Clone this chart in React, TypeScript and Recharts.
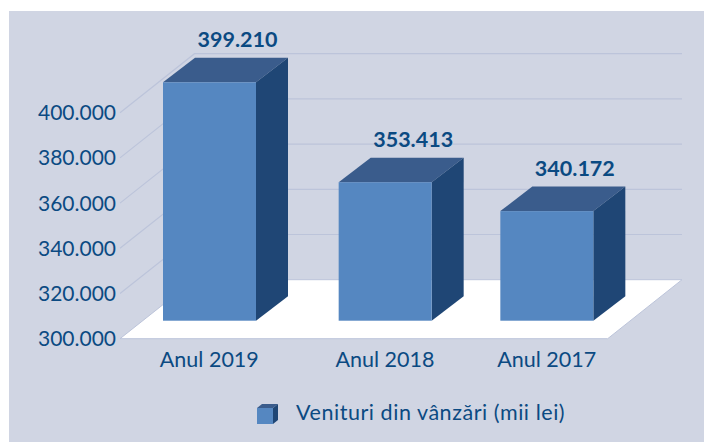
import { BarChart, Bar, XAxis, YAxis, CartesianGrid, LabelList } from 'recharts';

const CATEGORIES = ['Anul 2019', 'Anul 2018', 'Anul 2017'];
const SALES = [399210, 353413, 340172];
const Y_TICKS = [300000, 320000, 340000, 360000, 380000, 400000];
const SERIES_NAME = 'Venituri din vânzări (mii lei)';

const data = CATEGORIES.map((name, i) => ({ name, sales: SALES[i] }));

const PANEL = '#d0d5e3';
const TEXT = '#0b4a82';
const GRID = '#bcc4da';
const FRONT = '#5587c1';
const SIDE = '#1f4675';
const TOP = '#3a5c8c';
const FONT = 'Lato, sans-serif';

// floor depth and bar depth of the fake 3D projection
const FLOOR_DX = 74.5;
const FLOOR_DY = 59;
const BAR_DX = 32;
const BAR_DY = 24.5;
const BAR_LIFT = 18; // bars stand this far behind the floor's front edge
// the original spaces the categories unevenly
const CATEGORY_NUDGE = [0, 7, 0];

function formatThousands(value: number): string {
  return String(value).replace(/\B(?=(\d{3})+$)/g, '.');
}

// eslint-disable-next-line @typescript-eslint/no-explicit-any
function WallLine(props: any) {
  const { x1, x2, y1, y, height } = props;
  const left = x1 - 5;
  const isFloor = Math.abs(y1 - (y + height)) < 0.5;
  const backY = y1 - FLOOR_DY;
  return (
    <g>
      {isFloor && (
        <polygon
          points={`${left},${y1} ${x2 - 23.3},${y1} ${x2 + 51},${backY} ${left + FLOOR_DX},${backY}`}
          fill="#fff"
          stroke={GRID}
          strokeWidth={1}
        />
      )}
      {!isFloor && (
        <polyline
          points={`${left},${y1} ${left + FLOOR_DX},${backY} ${x2 + 51},${backY}`}
          fill="none"
          stroke={GRID}
          strokeWidth={1.2}
        />
      )}
    </g>
  );
}

// eslint-disable-next-line @typescript-eslint/no-explicit-any
function Bar3D(props: any) {
  const { x, y, width, height, index } = props;
  const left = x + CATEGORY_NUDGE[index];
  const right = left + width;
  const bottom = y + height - BAR_LIFT;
  return (
    <g>
      <polygon
        points={`${left},${y} ${right},${y} ${right + BAR_DX},${y - BAR_DY} ${left + BAR_DX},${y - BAR_DY}`}
        fill={TOP}
      />
      <polygon
        points={`${right},${y} ${right + BAR_DX},${y - BAR_DY} ${right + BAR_DX},${bottom - BAR_DY} ${right},${bottom}`}
        fill={SIDE}
      />
      <rect x={left} y={y} width={width} height={bottom - y} fill={FRONT} />
    </g>
  );
}

// eslint-disable-next-line @typescript-eslint/no-explicit-any
function ValueLabel(props: any) {
  const { x, y, width, value, index } = props;
  return (
    <text
      x={x + width / 2 + CATEGORY_NUDGE[index] + 28}
      y={y - BAR_DY - 11}
      fontFamily={FONT}
      fontSize={21.5}
      fontWeight={700}
      fill={TEXT}
      textAnchor="middle"
    >
      {formatThousands(value)}
    </text>
  );
}

// eslint-disable-next-line @typescript-eslint/no-explicit-any
function CategoryTick(props: any) {
  const { x, y, payload, index } = props;
  return (
    <text x={x + CATEGORY_NUDGE[index]} y={y + 20} fontFamily={FONT} fontSize={21.5} fill={TEXT} textAnchor="middle">
      {payload.value}
    </text>
  );
}

export default function App() {
  return (
    <div style={{ position: 'absolute', left: 0, top: 0, width: 704, height: 442, background: '#fff', overflow: 'hidden' }}>
      <div style={{ position: 'absolute', left: 9, top: 11, right: 0, bottom: 0, background: PANEL }} />
      <BarChart
        width={704}
        height={442}
        data={data}
        margin={{ top: 22.3, right: 73, bottom: 73.3, left: 0 }}
        barCategoryGap={0}
        style={{ position: 'absolute', left: 0, top: 0 }}
      >
        <CartesianGrid yAxisId="front" syncWithTicks vertical={false} horizontal={(p: any) => <WallLine {...p} />} />
        <XAxis dataKey="name" height={30} axisLine={false} tickLine={false} tick={(p: any) => <CategoryTick {...p} />} />
        <YAxis
          yAxisId="front"
          width={125}
          domain={[300000, 440000]}
          allowDataOverflow
          ticks={Y_TICKS}
          interval={0}
          axisLine={false}
          tickLine={false}
          tickSize={0}
          tickMargin={9}
          tickFormatter={formatThousands}
          tick={{ fontFamily: FONT, fontSize: 21, fill: TEXT }}
        />
        {/* bars sit deeper in the scene, so their plane has its own slightly flatter scale */}
        <YAxis yAxisId="bars" hide width={0} domain={[281700, 426700]} />
        <Bar dataKey="sales" yAxisId="bars" barSize={93} name={SERIES_NAME} shape={(p: any) => <Bar3D {...p} />} isAnimationActive={false}>
          <LabelList dataKey="sales" content={(p: any) => <ValueLabel {...p} />} />
        </Bar>
      </BarChart>

      {/* Legend */}
      <svg width={21} height={26} style={{ position: 'absolute', left: 257, top: 398 }}>
        <polygon points="0,10 5,6 21,6 16,10" fill={TOP} />
        <polygon points="16,10 21,6 21,22 16,26" fill={SIDE} />
        <rect x={0} y={10} width={16} height={16} fill={FRONT} />
      </svg>
      <div style={{ position: 'absolute', left: 296, top: 399, lineHeight: '26px', whiteSpace: 'nowrap', fontFamily: FONT, fontSize: 21.5, letterSpacing: 0.55, color: TEXT }}>
        {SERIES_NAME}
      </div>
    </div>
  );
}
